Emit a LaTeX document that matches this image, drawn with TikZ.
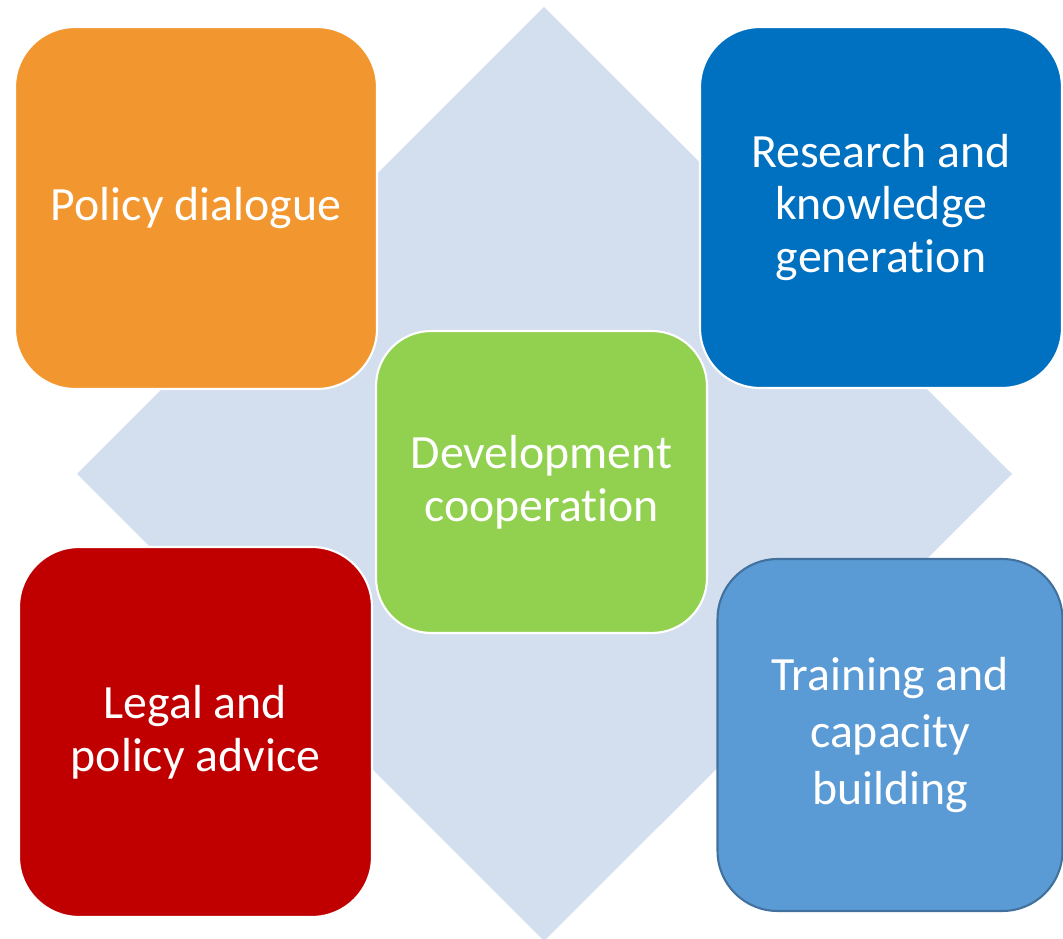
\documentclass[tikz,border=0pt]{standalone}
\usepackage{fontspec}
\setmainfont{Carlito}[Ligatures=NoCommon]
\usepackage{tikz}

\definecolor{diamondfill}{HTML}{D3DEEF}
\definecolor{orangebox}{HTML}{F2972F}
\definecolor{bluebox}{HTML}{0070C0}
\definecolor{greenbox}{HTML}{92D050}
\definecolor{redbox}{HTML}{C00000}
\definecolor{lightbox}{HTML}{5B9BD5}
\definecolor{lightedge}{HTML}{41719C}

\begin{document}
\begin{tikzpicture}[x=0.02cm,y=-0.02cm]
				\tikzstyle{box}=[draw=white, line width=1.2pt, rounded corners=1.2cm, inner sep=0pt, text=white, align=center, font=\fontsize{27.2}{30}\selectfont]
				\useasboundingbox (0,0) rectangle (1063,939);
				\fill[diamondfill] (544,7) -- (1012,474) -- (544,941) -- (77,474) -- cycle;
				\draw (196,208) node[box, fill=orangebox, minimum width=7.24cm, minimum height=7.24cm] (policy) {Policy dialogue};
				\draw (881,207.5) node[box, fill=bluebox, minimum width=7.24cm, minimum height=7.22cm] (research) {Research and\\knowledge\\generation};
				\draw (195.5,732) node[box, fill=redbox, minimum width=7.06cm, minimum height=7.4cm] (legal) {Legal and\\policy advice};
				\draw (890,735) node[box, fill=lightbox, draw=lightedge, minimum width=6.9cm, minimum height=7.04cm, font=\fontsize{27.2}{32.3}\selectfont] (training) {Training and\\capacity\\building};
				\draw (541.5,482) node[box, fill=greenbox, rounded corners=1.1cm, minimum width=6.62cm, minimum height=6.04cm] (devcoop) {Development\\cooperation};
\end{tikzpicture}
\end{document}
